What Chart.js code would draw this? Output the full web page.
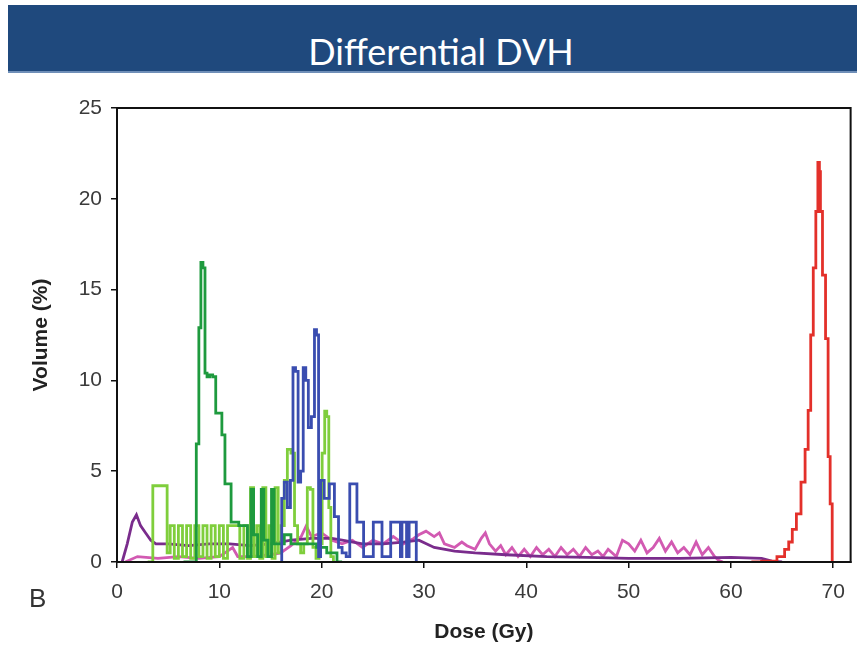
<!DOCTYPE html>
<html>
<head>
<meta charset="utf-8">
<script src="https://cdn.jsdelivr.net/npm/chart.js@4.4.0/dist/chart.umd.min.js"></script>
<style>
  html, body { margin: 0; padding: 0; background: #fff; }
  body { width: 857px; height: 647px; position: relative; overflow: hidden; }
  #bar { position: absolute; left: 8px; top: 5px; width: 849px; height: 66px; background: #1f497d; border-bottom: 2px solid #6f8fb8; }
  #bar span { position: absolute; left: 0; width: 866px; top: 24px; text-align: center; color: #fff; font: 36px Lato, "Open Sans", sans-serif; line-height: 44px; }
  #lbl { position: absolute; left: 29px; top: 583px; font: 26px "Liberation Sans", Arial, sans-serif; color: #333; }
  #wrap { position: absolute; left: 0; top: 0; width: 857px; height: 647px; }
</style>
</head>
<body>
<div id="wrap"><canvas id="dvh"></canvas></div>
<div id="bar"><span>Differential DVH</span></div>
<div id="lbl">B</div>
<script>
// dose bins (Gy) and volumes (%)
let redDose = [62, 64, 65, 65.5, 65.8, 66.2, 66.6, 67.1, 67.4, 67.7, 67.9, 68.2, 68.4, 68.6, 68.7, 68.8, 69.1, 69.4, 69.6, 69.8, 70.0];
let redVol  = [0, 0.05, 0.3, 0.7, 1.1, 1.8, 2.65, 4.4, 6.2, 8.35, 12.5, 16.2, 19.3, 22, 21.5, 19.3, 15.8, 12.3, 5.8, 3.2, 0];

let blueDose = [16.0, 16.2, 16.5, 16.8, 17.1, 17.3, 17.6, 17.8, 18.1, 18.3, 18.6, 18.8, 19.2, 19.4, 19.6, 19.8, 20.0, 20.5, 21.0, 21.5, 21.8, 22.2, 22.6, 22.9, 23.4, 23.5, 24.0, 24.2, 24.8, 25.3, 25.8, 26.0, 26.5, 27.0, 27.6, 27.8, 27.9, 28.2, 28.4, 28.7, 29.2, 29.3];
let blueVol  = [0, 3.5, 4.4, 3, 4.5, 10.7, 10.5, 4.4, 5, 10.7, 10, 7.4, 8, 12.8, 12.5, 0.3, 4.5, 3.5, 4.3, 2.5, 0.8, 0.5, 0.3, 4.3, 4.3, 2.2, 2.2, 0.3, 0.3, 2.2, 2.2, 0.3, 0.3, 2.2, 2.2, 0.3, 2.2, 2.2, 0.3, 2.2, 2.2, 0];

let dkGreenDose = [6.5, 7.6, 7.9, 8.1, 8.3, 8.5, 8.7, 8.9, 9.2, 9.5, 9.8, 10.1, 10.4, 10.7, 11.0, 11.3, 11.7, 12.1, 12.5, 13.0, 13.2, 13.5, 14.0, 14.2, 14.5, 15.0, 15.2, 15.5, 16.2, 16.5, 17.5, 19, 20, 21, 22];
let dkGreenVol  = [0, 0, 6.5, 12.9, 16.5, 16.2, 10.4, 10.2, 10.3, 10.2, 8.2, 8.2, 7, 4.3, 4.3, 2.2, 2.2, 2.0, 2, 0.3, 4, 1.5, 0.3, 4, 1.2, 0.3, 4, 1, 1, 1.5, 1, 1, 0.8, 0.5, 0];

let ltGreenDose = [3.0, 3.4, 3.6, 4.8, 5.0, 5.4, 5.8, 6.2, 6.6, 7.0, 7.4, 7.8, 8.2, 8.6, 9.0, 9.4, 9.8, 10.2, 10.6, 11.0, 11.4, 11.8, 12.2, 12.6, 12.9, 13.2, 13.5, 13.8, 14.1, 14.4, 14.7, 15.0, 15.3, 15.6, 15.9, 16.2, 16.5, 16.8, 17.2, 17.5, 17.8, 18.1, 18.4, 18.8, 19.0, 19.3, 19.6, 19.9, 20.2, 20.4, 20.6, 20.8, 21.0, 21.3];
let ltGreenVol  = [0, 0, 4.2, 4.2, 0.5, 2, 0.2, 2, 0.3, 2, 0.2, 2, 0.3, 2, 0.2, 2, 0.3, 2, 0.2, 2, 2, 2, 0.2, 2, 0.2, 4.1, 0.3, 2, 0.2, 4.1, 0.3, 2, 0.2, 4.1, 0.5, 2, 4.5, 6.2, 6, 2, 1, 0.5, 1, 4.1, 4, 0.8, 0.2, 1, 6, 8.3, 8, 3, 0.3, 0];

let purpleDose = [0.5, 1.0, 1.5, 1.9, 2.3, 2.8, 3.3, 3.8, 5, 7, 9, 11, 13, 15, 17, 19, 21, 22, 24, 26, 28, 29.5, 31, 33, 35, 38, 42, 46, 50, 55, 60, 63, 64, 65];
let purpleVol  = [0, 1, 2.2, 2.6, 2.0, 1.6, 1.2, 1.0, 1.0, 0.9, 1.0, 1.0, 0.9, 1.0, 1.2, 1.3, 1.3, 1.2, 1.0, 1.0, 1.1, 1.2, 0.8, 0.6, 0.5, 0.4, 0.3, 0.25, 0.2, 0.2, 0.25, 0.2, 0.05, 0];

let pinkDose = [0.8, 2, 4, 6, 8, 10, 11.3, 11.8, 13, 15, 16, 17, 18, 18.5, 19, 20, 21, 22, 23, 24, 25, 26, 27, 28, 29, 29.5, 30.2, 31, 31.5, 32, 33, 33.7, 34.2, 35, 35.6, 36, 36.4, 37, 37.5, 38, 38.6, 39.2, 39.8, 40.4, 41, 41.6, 42.2, 42.8, 43.4, 44, 44.6, 45.2, 45.8, 46.4, 47, 47.5, 48, 48.8, 49.4, 50, 50.6, 51.2, 51.8, 52.4, 53, 53.6, 54.2, 54.8, 55.4, 56, 56.6, 57.2, 57.8, 58.4, 58.8, 59.2];
let pinkVol  = [0, 0.3, 0.2, 0.3, 0.2, 0.3, 0.8, 0.3, 0.3, 0.4, 0.5, 0.9, 1.4, 2, 1.4, 1.6, 1.2, 1, 1.2, 0.8, 1.2, 1, 1.4, 1, 1.3, 1.5, 1.7, 1.4, 1.6, 1.0, 0.8, 1.1, 0.9, 0.7, 1.3, 1.6, 1.0, 0.6, 0.9, 0.4, 0.8, 0.3, 0.7, 0.3, 0.8, 0.4, 0.7, 0.3, 0.8, 0.4, 0.7, 0.3, 0.8, 0.4, 0.6, 0.3, 0.7, 0.3, 1.2, 1, 0.6, 1.2, 0.5, 0.8, 1.3, 0.6, 1.1, 0.5, 0.8, 0.4, 1.1, 0.4, 0.8, 0.3, 0.1, 0];

let xTicks = [0, 10, 20, 30, 40, 50, 60, 70];
let yTicks = [0, 5, 10, 15, 20, 25];

function pts(xs, ys) {
  return xs.map((x, i) => ({ x: x, y: ys[i] }));
}

function line(xs, ys, color, step) {
  return {
    data: pts(xs, ys),
    borderColor: color,
    borderWidth: 2.8,
    pointRadius: 0,
    tension: 0,
    stepped: step,
    fill: false
  };
}

// draws the top and right sides of the box
let frame = {
  id: "frame",
  afterDraw(chart) {
    let a = chart.chartArea;
    let c = chart.ctx;
    c.save();
    c.strokeStyle = "#111";
    c.lineWidth = 2;
    c.strokeRect(a.left, a.top, a.right - a.left, a.bottom - a.top);
    c.restore();
  }
};

let tickFont = { family: "'Liberation Sans', Arial, sans-serif", size: 21 };
let titleFont = { family: "'Liberation Sans', Arial, sans-serif", size: 21, weight: "bold" };

new Chart(document.getElementById("dvh"), {
  type: "line",
  data: {
    datasets: [
      line(redDose, redVol, "#e3302a", "middle"),
      line(blueDose, blueVol, "#3a4db0", "middle"),
      line(dkGreenDose, dkGreenVol, "#1e9a3e", "middle"),
      line(ltGreenDose, ltGreenVol, "#7fce3c", "middle"),
      line(purpleDose, purpleVol, "#7a2c8c", false),
      line(pinkDose, pinkVol, "#d25ab2", false)
    ]
  },
  options: {
    responsive: true,
    maintainAspectRatio: false,
    animation: false,
    layout: { padding: { top: 108, right: 4, left: 0, bottom: 0 } },
    plugins: { legend: { display: false }, tooltip: { enabled: false } },
    scales: {
      x: {
        type: "linear",
        min: 0,
        max: 71.7,
        afterFit: s => { s.height = 85; },
        afterBuildTicks: s => { s.ticks = xTicks.map(v => ({ value: v })); },
        ticks: { font: tickFont, color: "#3a3a3a", padding: 12, includeBounds: false },
        grid: { drawOnChartArea: false, drawTicks: true, tickLength: 6, color: "#111", lineWidth: 1.5 },
        border: { color: "#111", width: 2 },
        title: { display: true, text: "Dose (Gy)", font: titleFont, color: "#222", padding: { top: 0, bottom: 2 } }
      },
      y: {
        min: 0,
        max: 25,
        afterFit: s => { s.width = 117; },
        afterBuildTicks: s => { s.ticks = yTicks.map(v => ({ value: v })); },
        ticks: { font: tickFont, color: "#3a3a3a", padding: 9 },
        grid: { drawOnChartArea: false, drawTicks: true, tickLength: 6, color: "#111", lineWidth: 1.5 },
        border: { color: "#111", width: 2 },
        title: { display: true, text: "Volume (%)", font: titleFont, color: "#222", padding: { top: 29, bottom: 0 } }
      }
    }
  },
  plugins: [frame]
});
</script>
</body>
</html>
